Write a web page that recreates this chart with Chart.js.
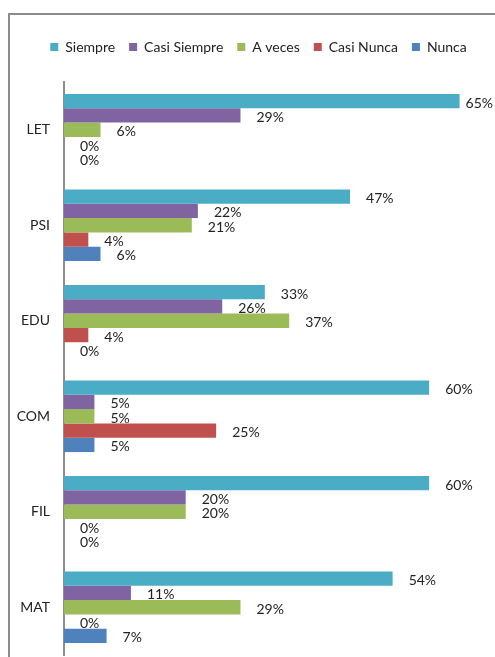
<!DOCTYPE html>
<html>
<head>
<meta charset="utf-8">
<script src="https://cdn.jsdelivr.net/npm/chart.js@4/dist/chart.umd.min.js"></script>
<style>
    body { margin: 0; background: #fff; overflow: hidden; }
    #frame {
        position: absolute; left: 8px; top: 13px;
        width: 500px; height: 660px;
        border-left: 2px solid #8c8c8c; border-top: 2px solid #8c8c8c;
    }
    #bar-chart { position: absolute; left: 9px; top: 14px; }
</style>
</head>
<body>
<div id="frame"></div>
<canvas id="bar-chart" width="486" height="643"></canvas>
<script>
var categories = ['LET', 'PSI', 'EDU', 'COM', 'FIL', 'MAT'];
var seriesNames = ['Siempre', 'Casi Siempre', 'A veces', 'Casi Nunca', 'Nunca'];
var siempre = [65, 47, 33, 60, 60, 54];
var casiSiempre = [29, 22, 26, 5, 20, 11];
var aVeces = [6, 21, 37, 5, 20, 29];
var casiNunca = [0, 4, 4, 25, 0, 0];
var nunca = [0, 6, 0, 5, 0, 7];
var colors = ['#4BACC6', '#8064A2', '#9BBB59', '#C0504D', '#4F81BD'];

var FONT = 'Lato, "Liberation Sans", sans-serif';

// etiquetas de valor a la derecha de cada barra
var valueLabels = {
    id: 'valueLabels',
    afterDatasetsDraw: function (chart) {
        var ctx = chart.ctx;
        ctx.save();
        ctx.font = '14px ' + FONT;
        ctx.fillStyle = '#222';
        ctx.textBaseline = 'middle';
        chart.data.datasets.forEach(function (ds, i) {
            chart.getDatasetMeta(i).data.forEach(function (el, j) {
                var txt = ds.data[j] + '%';
                var w = ctx.measureText(txt).width;
                var x = Math.min(el.x + 16, chart.width - w - 2);
                ctx.fillText(txt, x, el.y + 2);
            });
        });
        ctx.restore();
    }
};

// espacio debajo de la leyenda y pequeño desplazamiento a la derecha
var legendGap = {
    id: 'legendGap',
    beforeInit: function (chart) {
        var fit = chart.legend.fit;
        chart.legend.fit = function () {
            fit.bind(chart.legend)();
            this.height += 18;
        };
    },
    afterLayout: function (chart) {
        chart.legend.left += 9;
        chart.legend.right += 9;
    }
};

function createBarChart() {
    var data = [siempre, casiSiempre, aVeces, casiNunca, nunca];
    var datasets = seriesNames.map(function (name, i) {
        return {
            label: name,
            data: data[i],
            backgroundColor: colors[i],
            borderWidth: 0,
            barPercentage: 1,
            categoryPercentage: 0.75
        };
    });

    new Chart(document.getElementById('bar-chart'), {
        type: 'bar',
        data: { labels: categories, datasets: datasets },
        plugins: [legendGap, valueLabels],
        options: {
            indexAxis: 'y',
            responsive: false,
            animation: false,
            layout: { padding: { top: 12, right: 5, bottom: 2, left: 0 } },
            plugins: {
                tooltip: { enabled: false },
                legend: {
                    position: 'top',
                    labels: {
                        boxWidth: 8, boxHeight: 8, padding: 14,
                        color: '#222',
                        font: { family: FONT, size: 14 }
                    }
                }
            },
            scales: {
                x: { display: false, min: 0, max: 70 },
                y: {
                    grid: { drawOnChartArea: false, drawTicks: false, color: 'transparent' },
                    border: { display: true, color: '#8c8c8c', width: 2 },
                    ticks: { color: '#222', padding: 14, font: { family: FONT, size: 14 } },
                    afterFit: function (scale) {
                        scale.width = 55;
                        scale.paddingTop = 0;
                        scale.paddingBottom = 0;
                    }
                }
            }
        }
    });
}

createBarChart();
</script>
</body>
</html>
